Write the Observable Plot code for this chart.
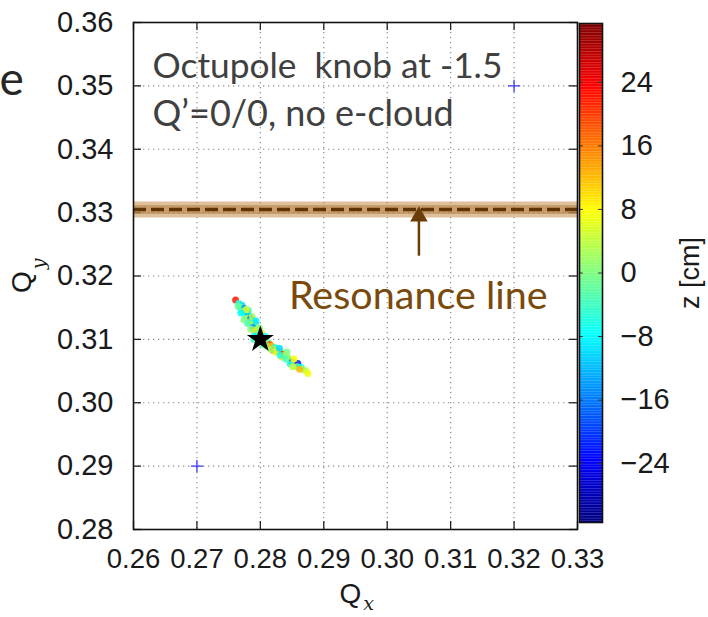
<!DOCTYPE html>
<html><head><meta charset="utf-8">
<script src="https://cdn.jsdelivr.net/npm/d3@7"></script>
<script src="https://cdn.jsdelivr.net/npm/@observablehq/plot@0.6"></script>
<style>
html,body{margin:0;padding:0;background:#fff;}
#wrap{position:relative;width:708px;height:617px;overflow:hidden;background:#fff;}
#wrap svg{position:absolute;left:0;top:0;background:transparent;}
</style></head><body><div id="wrap"></div>
<script>
// ---- data ----
const qx = [0.2761,0.2766,0.2771,0.2768,0.2774,0.2772,0.2779,0.2776,0.2782,0.2779,0.2785,0.2784,0.2790,0.2787,0.2793,0.2788,0.2795,0.2791,0.2798,0.2795,0.2802,0.2790,0.2798,0.2790,0.2804,0.2809,0.2806,0.2812,0.2815,0.2810,0.2818,0.2823,0.2820,0.2826,0.2829,0.2832,0.2835,0.2839,0.2834,0.2843,0.2840,0.2847,0.2850,0.2854,0.2859,0.2858,0.2864,0.2867,0.2872,0.2875,0.2781,0.2787,0.2793,0.2799,0.2807,0.2803,0.2824,0.2830,0.2847,0.2853,0.2765,0.2778,0.2769,0.2774,0.2780,0.2785,0.2817,0.2831,0.2842,0.2851,0.2862];
const qy = [0.3162,0.3157,0.3154,0.3151,0.3149,0.3144,0.3143,0.3139,0.3138,0.3133,0.3133,0.3128,0.3128,0.3124,0.3122,0.3119,0.3116,0.3113,0.3111,0.3108,0.3110,0.3105,0.3103,0.3100,0.3100,0.3098,0.3094,0.3095,0.3092,0.3089,0.3089,0.3087,0.3083,0.3084,0.3080,0.3081,0.3076,0.3075,0.3072,0.3072,0.3069,0.3067,0.3064,0.3062,0.3062,0.3057,0.3056,0.3053,0.3050,0.3046,0.3146,0.3136,0.3129,0.3117,0.3105,0.3092,0.3080,0.3086,0.3061,0.3069,0.3152,0.3147,0.3142,0.3131,0.3125,0.3116,0.3084,0.3075,0.3080,0.3057,0.3053];
const zcm = [22,-5,-10,0,-14,2,-26,-6,-12,3,-18,0,-6,8,-2,-14,4,10,0,-3,6,-8,2,-4,-20,4,9,-2,18,0,12,-5,20,3,16,-1,22,5,10,2,-4,0,-20,3,-22,0,-8,1,4,7,-4,2,-9,1,-7,-2,6,-10,-6,8,-2,5,-8,0,-3,1,2,-6,0,4,12];
const markerQx = [0.27, 0.32];
const markerQy = [0.29, 0.35];
const workingQx = [0.28];
const workingQy = [0.31];
const resonanceQy = 0.3305;
const arrowQx = 0.305, arrowFromQy = 0.3232, arrowToQy = 0.3294;
const xTicks = [0.26,0.27,0.28,0.29,0.30,0.31,0.32,0.33];
const yTicks = [0.28,0.29,0.30,0.31,0.32,0.33,0.34,0.35,0.36];
const zTicks = [-24,-16,-8,0,8,16,24];
const zDomain = [-31.4, 31.4];
const noteLines = ["Octupole  knob at -1.5", "Q\u2019=0/0, no e-cloud"];
const resonanceLabel = "Resonance line";

// jet colormap
const jet = d3.piecewise(d3.interpolateRgb, ["#00007f","#0000ff","#007fff","#00ffff","#7fff7f","#ffff00","#ff7f00","#ff0000","#7f0000"]);
const colorOpts = {type: "linear", domain: zDomain, interpolate: () => jet};

const pts = qx.map((d, i) => ({qx: d, qy: qy[i], z: zcm[i]}));
const W = 708, H = 617;
const tickLenX = (0.33 - 0.26) * 8 / 444;
const tickLenY = (0.36 - 0.28) * 8 / 507;
const axisFont = "'Liberation Sans', Arial, sans-serif";
const noteFont = "Lato, 'Open Sans', sans-serif";

const main = Plot.plot({
  width: W, height: H,
  marginLeft: 133, marginRight: 131, marginTop: 22, marginBottom: 88,
  style: {background: "transparent", fontFamily: axisFont},
  x: {domain: [0.26, 0.33]},
  y: {domain: [0.28, 0.36]},
  color: colorOpts,
  marks: [
    Plot.ruleX(xTicks.slice(1, -1), {stroke: "#8a8a8a", strokeDasharray: "1.3,3.7", strokeWidth: 1.2}),
    Plot.ruleY(yTicks.slice(1, -1), {stroke: "#8a8a8a", strokeDasharray: "1.3,3.7", strokeWidth: 1.2}),
    Plot.ruleX(xTicks, {y1: 0.28, y2: 0.28 + tickLenY, stroke: "#222", strokeWidth: 1.3}),
    Plot.ruleX(xTicks, {y1: 0.36, y2: 0.36 - tickLenY, stroke: "#222", strokeWidth: 1.3}),
    Plot.ruleY(yTicks, {x1: 0.26, x2: 0.26 + tickLenX, stroke: "#222", strokeWidth: 1.3}),
    Plot.ruleY(yTicks, {x1: 0.33, x2: 0.33 - tickLenX, stroke: "#222", strokeWidth: 1.3}),
    Plot.dot(markerQx.map((d, i) => ({qx: d, qy: markerQy[i]})), {x: "qx", y: "qy", symbol: "plus", r: 4, stroke: "#3b3bff", strokeWidth: 1.3}),
    Plot.dot(pts, {x: "qx", y: "qy", fill: "z", r: 3.5, stroke: null, fillOpacity: 0.85}),
    Plot.dot(workingQx.map((d, i) => ({qx: d, qy: workingQy[i]})), {x: "qx", y: "qy", symbol: "star", r: 8.5, fill: "black", stroke: null}),
    Plot.ruleY([resonanceQy], {stroke: "#c8965c", strokeOpacity: 0.6, strokeWidth: 16}),
    Plot.ruleY([resonanceQy], {stroke: "#b07a3e", strokeOpacity: 0.5, strokeWidth: 9}),
    Plot.ruleY([resonanceQy], {stroke: "#5e3406", strokeWidth: 3.5, strokeDasharray: "13,5"}),
    Plot.link([{x: arrowQx, y1: arrowFromQy, y2: arrowToQy}], {x1: "x", x2: "x", y1: "y1", y2: "y2", stroke: "#6a3c08", strokeWidth: 2.5}),
    Plot.dot([{x: arrowQx, y: arrowToQy}], {x: "x", y: "y", symbol: "triangle", r: 6.5, fill: "#6a3c08", stroke: null}),
    Plot.text([noteLines[0]], {x: 0.2630, y: 0.3531, textAnchor: "start", fontSize: 35.3, fill: "#404040", fontFamily: noteFont}),
    Plot.text([noteLines[1]], {x: 0.2630, y: 0.3455, textAnchor: "start", fontSize: 36, fill: "#404040", fontFamily: noteFont}),
    Plot.text([resonanceLabel], {x: 0.2845, y: 0.3168, textAnchor: "start", fontSize: 39.5, fill: "#7a4a0c", fontFamily: noteFont}),
    Plot.frame({stroke: "#111", strokeWidth: 1.6}),
    Plot.axisX(xTicks, {tickSize: 0, tickPadding: 19, fontSize: 27.5, fill: "#1a1a1a", tickFormat: d3.format(".2f"), label: null}),
    Plot.axisY(yTicks, {tickSize: 0, tickPadding: 20, fontSize: 29, fill: "#1a1a1a", tickFormat: d3.format(".2f"), label: null}),
    Plot.text(["Q"], {frameAnchor: "bottom", textAnchor: "middle", dx: -5, dy: 73, fontSize: 28, fill: "#1a1a1a"}),
    Plot.text(["x"], {frameAnchor: "bottom", textAnchor: "middle", dx: 13, dy: 80, fontSize: 19, fontStyle: "italic", fontFamily: "'DejaVu Serif', serif", fill: "#1a1a1a"}),
    Plot.text(["Q"], {frameAnchor: "left", textAnchor: "middle", dx: -111, dy: 6, rotate: -90, fontSize: 28, fill: "#1a1a1a"}),
    Plot.text(["y"], {frameAnchor: "left", textAnchor: "middle", dx: -95, dy: -12, rotate: -90, fontSize: 19, fontStyle: "italic", fontFamily: "'DejaVu Serif', serif", fill: "#1a1a1a"}),
    Plot.text(["e"], {frameAnchor: "top-left", dx: -134, dy: 40, textAnchor: "start", fontSize: 46, fill: "#262626", fontFamily: noteFont})
  ]
});

const cbSteps = d3.range(zDomain[0], zDomain[1], 0.2);
const cb = Plot.plot({
  width: W, height: H,
  marginLeft: 579, marginRight: 106, marginTop: 23, marginBottom: 95,
  style: {background: "transparent", fontFamily: axisFont},
  x: {domain: [0, 1], axis: null},
  y: {domain: zDomain},
  color: colorOpts,
  marks: [
    Plot.rect(cbSteps, {x1: 0, x2: 1, y1: d => d, y2: d => Math.min(d + 0.22, zDomain[1]), fill: d => d + 0.1}),
    Plot.ruleY(zTicks, {x1: 0, x2: 0.17, stroke: "#333", strokeWidth: 1}),
    Plot.ruleY(zTicks, {x1: 1, x2: 0.83, stroke: "#333", strokeWidth: 1}),
    Plot.frame({stroke: "#111", strokeWidth: 1.6}),
    Plot.axisY(zTicks, {anchor: "right", tickSize: 0, tickPadding: 18, fontSize: 29, fill: "#1a1a1a", tickFormat: d3.format("d"), label: null}),
    Plot.text(["z [cm]"], {frameAnchor: "right", textAnchor: "middle", dx: 88, rotate: -90, fontSize: 27, fill: "#1a1a1a"})
  ]
});

const wrap = document.getElementById("wrap");
wrap.appendChild(main);
wrap.appendChild(cb);
</script></body></html>
